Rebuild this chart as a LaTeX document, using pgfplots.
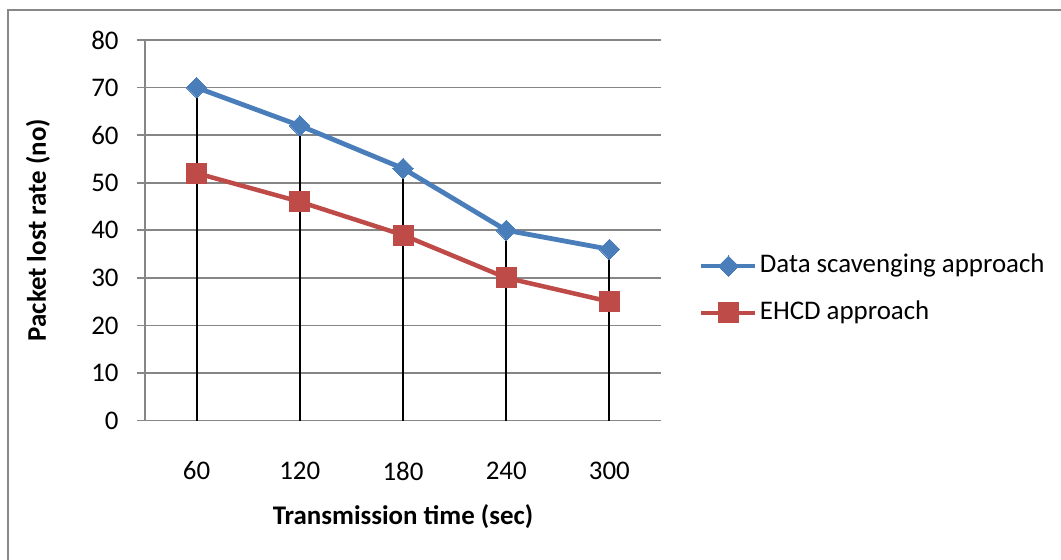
\documentclass[border=0pt]{standalone}
\usepackage{pgfplots}
\pgfplotsset{compat=1.18}
\usepackage{fontspec}
\setmainfont{Carlito}
\definecolor{sblue}{HTML}{4A7EBB}
\definecolor{sred}{HTML}{BE4B48}
\definecolor{gridgray}{HTML}{868686}
\definecolor{bordergray}{HTML}{888888}
\begin{document}
\begin{tikzpicture}[x=1bp,y=1bp]
\useasboundingbox (-72.5,-69.25) rectangle (458,210.25);
\begin{scope}
\clip (-72.5,-69.25) rectangle (458,210.25);
\draw[color=bordergray, line width=1bp] (-68.5,-100) -- (-68.5,205.25) -- (500,205.25);
\end{scope}
\begin{axis}[
  at={(0,0)}, anchor=south west,
  scale only axis, width=258bp, height=190.25bp,
  xmin=-0.5, xmax=4.5, ymin=0, ymax=80,
  xtick={0,1,2,3,4}, xticklabels={60,120,180,240,300},
  ytick={0,10,...,80},
  axis x line=bottom, axis y line=left,
  axis line style={-, color=gridgray, line width=0.85bp},
  x axis line style={-}, y axis line style={-},
  ymajorgrids, grid style={color=gridgray, line width=0.85bp},
  xtick style={draw=none},
  ytick style={color=gridgray, line width=0.85bp},
  tick align=outside, major tick length=4bp,
  /pgf/number format/assume math mode=true,
  tick label style={font=\fontsize{13.5}{16}\selectfont},
  yticklabel style={anchor=east, inner sep=0pt, xshift=-9bp},
  xticklabel style={anchor=center, yshift=-21.25bp},
  xlabel={Transmission time (sec)},
  ylabel={Packet lost rate (no)},
  label style={font=\fontsize{13.5}{16}\selectfont\bfseries},
  xlabel style={at={(axis description cs:0.5,-0.2536)}, anchor=center},
  ylabel style={at={(axis description cs:-0.2074,0.5)}, anchor=center, rotate=0},
  legend style={at={(axis description cs:1.073,0.3444)}, anchor=west, draw=none, fill=none,
    inner sep=0pt, row sep=8.5bp, font=\fontsize{13.5}{16}\selectfont,
    nodes={inner sep=1bp, text height=10bp, text depth=3bp}},
  legend cell align=left,
  legend image code/.code={\draw[mark repeat=2, mark phase=2] plot coordinates {(0bp,0bp) (13.5bp,0bp) (27bp,0bp)};},
  clip=false,
]
\addplot[color=sblue, line width=2.4bp, mark=square*, mark size=3.6bp,
  mark options={rotate=45, fill=sblue, draw=sblue, line width=0pt}]
  coordinates {(0,70) (1,62) (2,53) (3,40) (4,36)};
\addlegendentry{Data scavenging approach}
\addplot[color=sred, line width=2.25bp, mark=square*, mark size=5bp,
  mark options={fill=sred, draw=sred, line width=0pt}]
  coordinates {(0,52) (1,46) (2,39) (3,30) (4,25)};
\addlegendentry{EHCD approach}
\addplot[forget plot, black, line width=1bp, ycomb, no marks]
  coordinates {(0,70) (1,62) (2,53) (3,40) (4,36)};
\end{axis}
\end{tikzpicture}
\end{document}
